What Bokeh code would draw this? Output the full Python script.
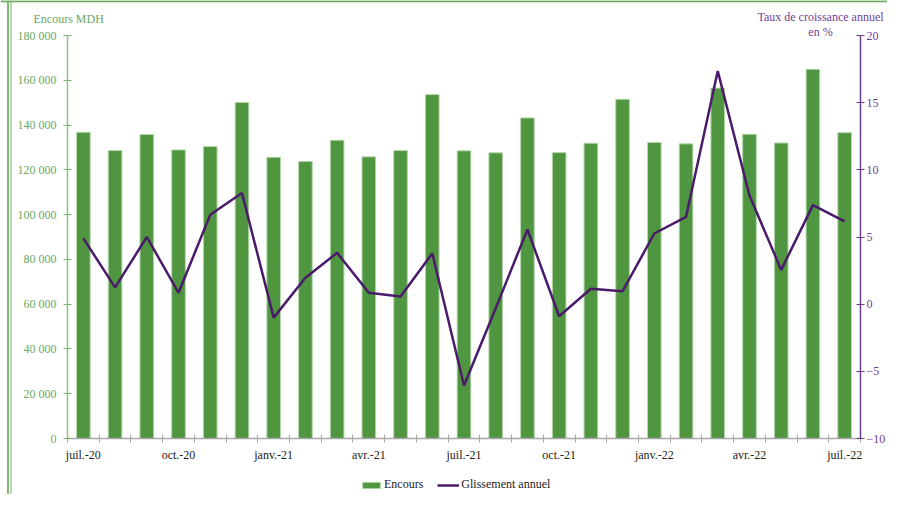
from bokeh.plotting import figure
from bokeh.models import (Range1d, LinearAxis, FixedTicker, Legend, LegendItem, Label, Span)
from bokeh.embed import file_html
from bokeh.resources import INLINE

months = ["juil.-20", "août-20", "sept.-20", "oct.-20", "nov.-20", "déc.-20",
          "janv.-21", "févr.-21", "mars-21", "avr.-21", "mai-21", "juin-21",
          "juil.-21", "août-21", "sept.-21", "oct.-21", "nov.-21", "déc.-21",
          "janv.-22", "févr.-22", "mars-22", "avr.-22", "mai-22", "juin-22", "juil.-22"]
encours = [136800, 128600, 135800, 128900, 130400, 150100,
           125600, 123700, 133200, 125800, 128600, 153600,
           128500, 127600, 143200, 127700, 131900, 151500,
           132200, 131600, 156500, 135900, 132000, 164900, 136600]
glissement = [4.9, 1.25, 5.0, 0.85, 6.65, 8.27,
              -1.0, 1.97, 3.82, 0.85, 0.57, 3.78,
              -6.05, -0.3, 5.56, -0.9, 1.15, 0.97,
              5.26, 6.5, 17.35, 8.09, 2.55, 7.37, 6.16]
left_ticks = [0, 20000, 40000, 60000, 80000, 100000, 120000, 140000, 160000, 180000]
right_ticks = [-10, -5, 0, 5, 10, 15, 20]
left_title = "Encours MDH"
right_title = ["Taux de croissance annuel", "en %"]

FONT = "Liberation Serif"
GREEN_TXT = "#6aa860"
PURPLE_TXT = "#6f3f95"

# ---- layout (pixels) ----
W, H = 887, 494
AX_L, AX_R, AX_T, AX_B = 67, 860, 35, 438   # where the axes sit on the canvas
n = len(months)
L_MAX, R_MIN, R_MAX = left_ticks[-1], right_ticks[0], right_ticks[-1]

px_x = (AX_R - AX_L) / n
x0 = 0.5 - AX_L / px_x
x1 = x0 + W / px_x
px_l = L_MAX / (AX_B - AX_T)
yl0 = -(H - AX_B) * px_l
yl1 = L_MAX + AX_T * px_l
px_r = (R_MAX - R_MIN) / (AX_B - AX_T)
yr0 = R_MIN - (H - AX_B) * px_r
yr1 = R_MAX + AX_T * px_r

def sx(px):
    return x0 + px / px_x

def sy(py):
    return yl1 - py * px_l

x = list(range(1, n + 1))

p = figure(width=W, height=H, output_backend="svg", toolbar_location=None,
           x_range=Range1d(x0, x1), y_range=Range1d(yl0, yl1),
           min_border_left=0, min_border_top=0, min_border_right=0, min_border_bottom=0)
p.extra_y_ranges = {"pct": Range1d(yr0, yr1)}
p.outline_line_color = None
p.xgrid.visible = False
p.ygrid.visible = False
p.background_fill_color = "white"
p.border_fill_color = "white"

# decorative frame lines of the original page
p.add_layout(Span(location=sx(7.5), dimension="height", line_color="#5a9e4c", line_width=1.5))
p.add_layout(Span(location=sx(10.5), dimension="height", line_color="#9fcf94", line_width=1.5))
p.add_layout(Span(location=sy(0.8), dimension="width", line_color="#6aaa5e", line_width=2))

bars = p.vbar(x=x, top=encours, bottom=0, width=0.43, fill_color="#509641",
              line_color="#b3d7aa", line_width=1)
line = p.line(x, glissement, y_range_name="pct", line_color="#4a1b6a", line_width=2.5)

# x axis
xa = p.xaxis[0]
xa.fixed_location = 0
xa.bounds = (0.5, n + 0.5)
xa.ticker = FixedTicker(ticks=x[::3], minor_ticks=[i + 0.5 for i in range(0, n + 1)])
xa.major_label_overrides = {i: months[i - 1] for i in x[::3]}
xa.major_tick_line_color = None
xa.minor_tick_line_color = "#a6a6a6"
xa.minor_tick_in = 4
xa.minor_tick_out = 4
xa.axis_line_color = "#a6a6a6"
xa.axis_line_width = 1.5
xa.major_label_text_font = FONT
xa.major_label_text_font_size = "12px"
xa.major_label_text_color = "#222222"
xa.major_label_standoff = 3

# left axis
ya = p.yaxis[0]
ya.fixed_location = 0.5
ya.bounds = (0, L_MAX)
ya.ticker = FixedTicker(ticks=left_ticks)
ya.major_label_overrides = {v: f"{v:,}".replace(",", " ") for v in left_ticks}
ya.minor_tick_line_color = None
ya.major_tick_in = 4
ya.major_tick_out = 4
ya.axis_line_color = "#8fc485"
ya.axis_line_width = 1.5
ya.major_tick_line_color = "#7ab870"
ya.major_label_text_font = FONT
ya.major_label_text_font_size = "12px"
ya.major_label_text_color = GREEN_TXT
ya.major_label_standoff = 7

# right axis
ra = LinearAxis(y_range_name="pct", ticker=FixedTicker(ticks=right_ticks),
                fixed_location=n + 0.5, bounds=(R_MIN, R_MAX))
ra.minor_tick_line_color = None
ra.major_tick_in = 4
ra.major_tick_out = 4
ra.axis_line_color = "#6a3d8f"
ra.axis_line_width = 1.5
ra.major_tick_line_color = "#6a3d8f"
ra.major_label_text_font = FONT
ra.major_label_text_font_size = "12px"
ra.major_label_text_color = PURPLE_TXT
ra.major_label_standoff = 2
p.add_layout(ra, "right")

# axis titles
def add_label(text, color, px, py, align):
    p.add_layout(Label(x=sx(px), y=sy(py), text=text, text_font=FONT,
                       text_font_size="12px", text_color=color,
                       text_baseline="middle", text_align=align))

add_label(left_title, GREEN_TXT, 33, 18, "left")
add_label(right_title[0], PURPLE_TXT, 820, 16, "center")
add_label(right_title[1], PURPLE_TXT, 820, 31, "center")

legend = Legend(items=[LegendItem(label="Encours", renderers=[bars]),
                       LegendItem(label="Glissement annuel", renderers=[line])],
                orientation="horizontal", location=(360, 2),
                label_text_font=FONT, label_text_font_size="12px",
                label_text_color="#222222", glyph_width=22, glyph_height=8,
                spacing=14, padding=0, margin=0, border_line_color=None,
                background_fill_alpha=0, label_standoff=2, label_height=12)
p.add_layout(legend, "center")

open("out.html", "w").write(file_html(p, INLINE))
